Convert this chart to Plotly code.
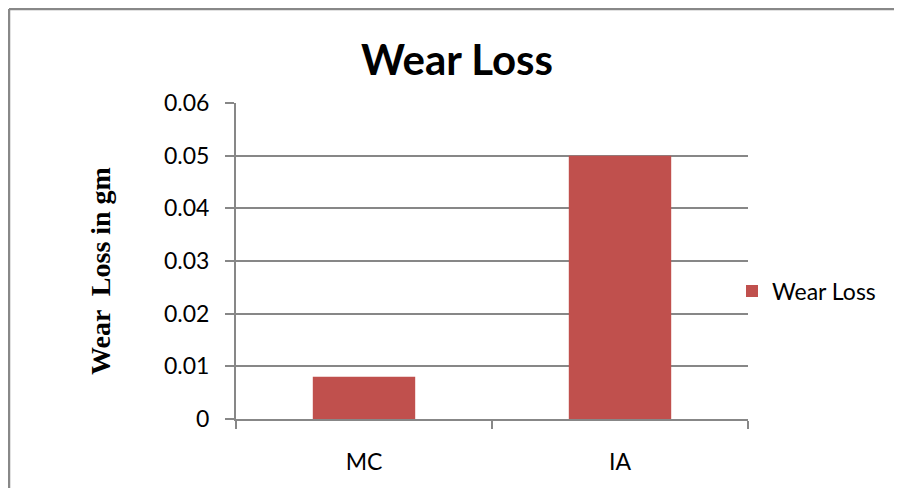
import plotly.graph_objects as go

categories = ["MC", "IA"]
wear_loss = [0.008, 0.05]
series_name = "Wear Loss"
y_ticks = [0, 0.01, 0.02, 0.03, 0.04, 0.05, 0.06]
y_tick_labels = ["0", "0.01", "0.02", "0.03", "0.04", "0.05", "0.06"]

# page has an 8px body margin, so the figure starts at (8, 8)
W, H = 886, 480
L, R, T, B = 228, 146, 95, 69
PW, PH = W - L - R, H - T - B
GRAY = "#878787"
FONT = "Lato, 'Open Sans', sans-serif"

fig = go.Figure()
fig.add_trace(go.Bar(x=categories, y=wear_loss, name=series_name,
                     marker=dict(color="#C0504D", line=dict(width=0)),
                     showlegend=True))

fig.update_layout(
    width=W, height=H,
    margin=dict(l=L, r=R, t=T, b=B, autoexpand=False),
    paper_bgcolor="white", plot_bgcolor="white",
    bargap=0.6,
    font=dict(family=FONT, size=23, color="#000000"),
    title=dict(text="<b>Wear Loss</b>", x=449 / W, xanchor="center",
               y=1 - 52 / H, yanchor="middle",
               font=dict(family=FONT, size=42, color="#000000")),
    showlegend=True,
    legend=dict(x=(724 - L) / PW, xanchor="left", y=0.405, yanchor="middle",
                font=dict(family=FONT, size=23), bgcolor="rgba(0,0,0,0)",
                itemwidth=30),
    xaxis=dict(type="category", showgrid=False, showline=True, linecolor=GRAY,
               linewidth=2, ticks="outside", tickson="boundaries", ticklen=8,
               tickcolor=GRAY, tickwidth=2, ticklabelstandoff=21,
               tickfont=dict(family=FONT, size=23)),
    yaxis=dict(range=[0, 0.06], tickvals=y_ticks, ticktext=y_tick_labels,
               showgrid=True, gridcolor=GRAY, gridwidth=1.5,
               showline=True, linecolor=GRAY, linewidth=2,
               ticks="outside", ticklen=9, tickcolor=GRAY, tickwidth=2,
               ticklabelstandoff=11, zeroline=False,
               tickfont=dict(family=FONT, size=23)),
)

fig.add_annotation(text="<b>Wear  Loss in gm</b>", textangle=-90,
                   xref="paper", yref="paper",
                   x=(92 - L) / PW, y=(H - B - 263) / PH,
                   xanchor="center", yanchor="middle", showarrow=False,
                   font=dict(family="'Liberation Serif', 'Times New Roman', serif",
                             size=28, color="#000000"))

# outer chart border: only the top and left edges are inside the picture
border = dict(color="#888888", width=2.5)
fig.add_shape(type="line", xref="paper", yref="paper",
              x0=(1 - L) / PW, x1=(W + 5 - L) / PW,
              y0=(H - B - 1) / PH, y1=(H - B - 1) / PH, line=border, layer="below")
fig.add_shape(type="line", xref="paper", yref="paper",
              x0=(1 - L) / PW, x1=(1 - L) / PW,
              y0=-(B + 5) / PH, y1=(H - B - 1) / PH, line=border, layer="below")

fig.write_html("out.html", config={"displayModeBar": False})
